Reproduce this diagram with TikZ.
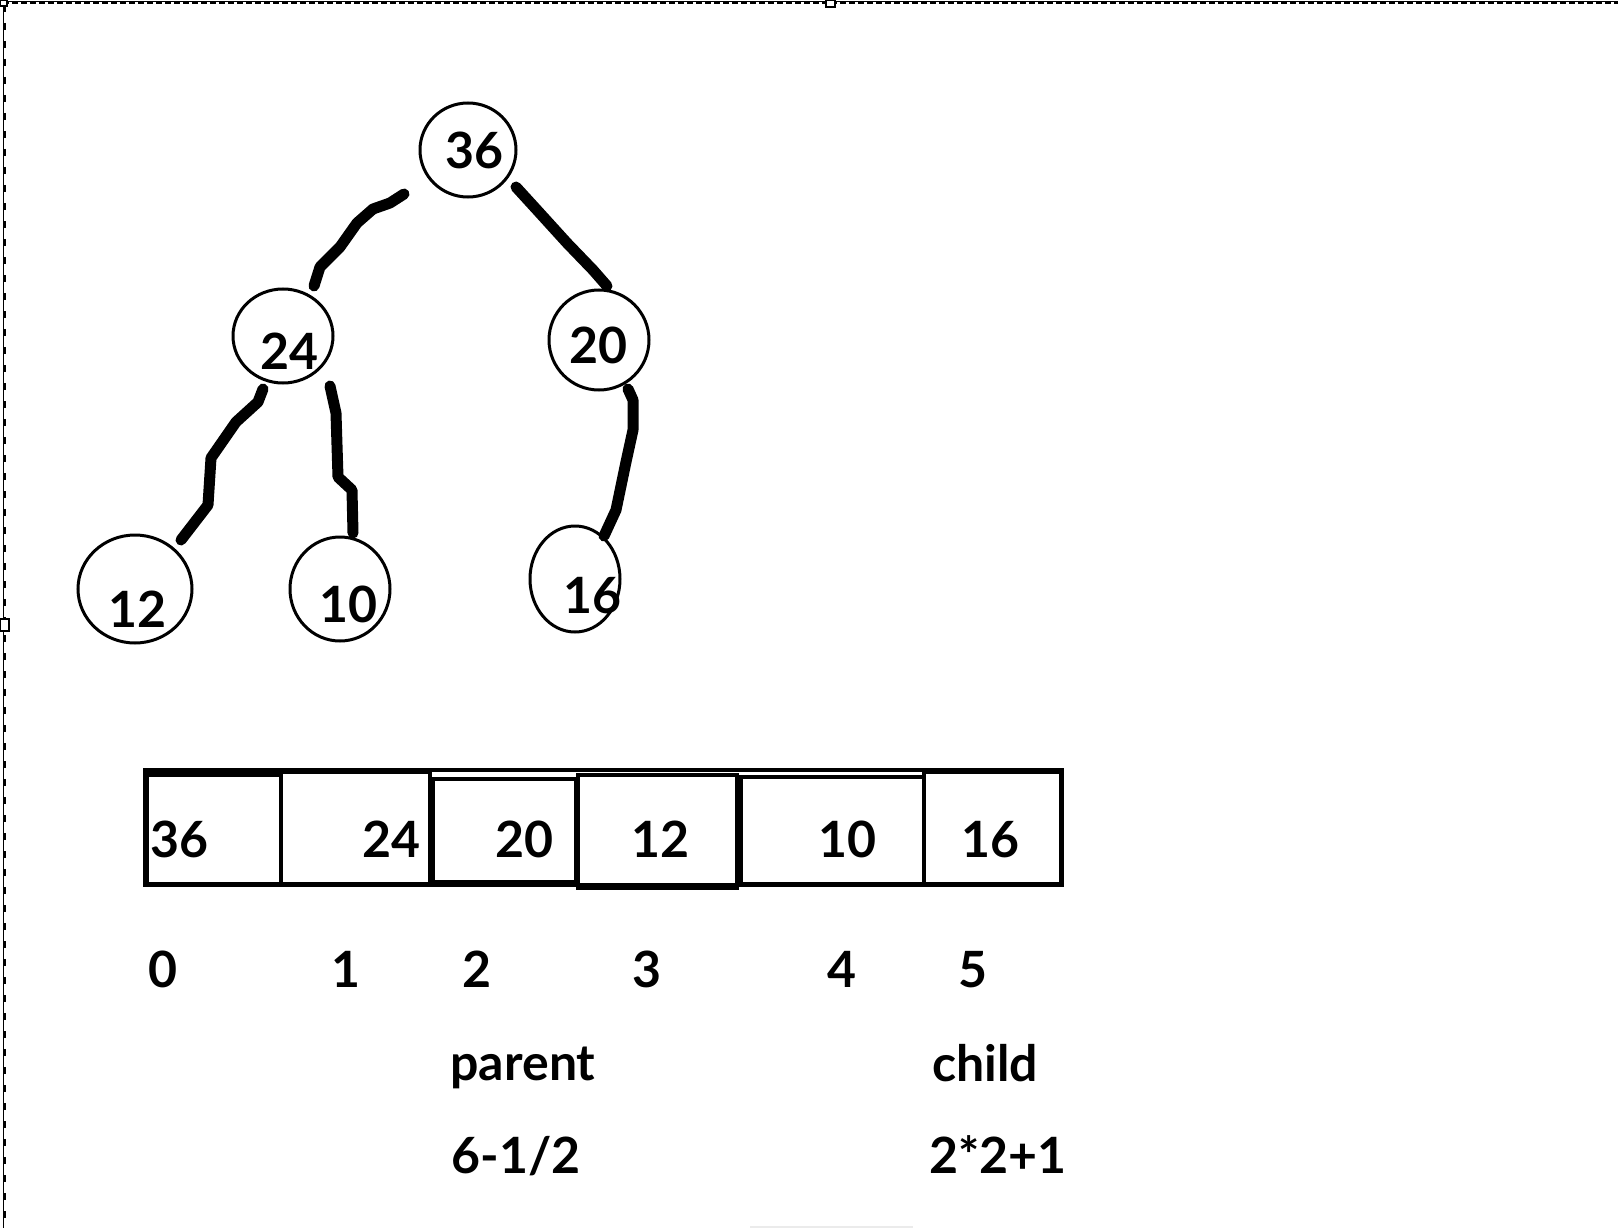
\documentclass[tikz,border=0pt]{standalone}
\usepackage{fontspec}
\setmainfont{Lato}
\usetikzlibrary{shapes.geometric}
\begin{document}
\begin{tikzpicture}[x=1pt,y=-1pt,
  tnode/.style={draw,ellipse,line width=3pt,inner sep=0pt},
  lbl/.style={anchor=base,inner sep=0pt,font=\fontsize{50}{50}\selectfont\bfseries},
  edge/.style={line width=11pt,line cap=round,line join=round},
  cell/.style={line width=3.5pt},
]
\useasboundingbox (0,0) rectangle (1618,1228);
% frame (selection border)
\draw[line width=1pt] (3,2) -- (1618,2);
\draw[line width=2.5pt,dash pattern=on 6pt off 3pt] (3,3) -- (1618,3);
\draw[line width=1pt] (3,2) -- (3,1228);
\draw[line width=2.5pt,dash pattern=on 7pt off 11pt] (4.5,5) -- (4.5,1228);
\draw[line width=1.5pt,fill=white] (826,0) rectangle (835,7);
\draw[line width=1.5pt,fill=white] (0,619) rectangle (9,631);
\draw[line width=1.5pt,fill=white] (0,0) rectangle (7,6);
\draw[black!8,line width=1.5pt] (750,1227) -- (913,1227);

% tree nodes
\node[tnode,minimum width=96pt,minimum height=94pt] (n36) at (468,150) {};
\node[tnode,minimum width=100pt,minimum height=100pt] (n20) at (599,340) {};
\node[tnode,minimum width=100pt,minimum height=94pt] (n24) at (283,336) {};
\node[tnode,minimum width=114pt,minimum height=108pt] (n12) at (135,589) {};
\node[tnode,minimum width=100pt,minimum height=104pt] (n10) at (340,589) {};
\node[tnode,minimum width=90pt,minimum height=106pt] (n16) at (575,579) {};

\node[lbl] (t36) at (474,168) {36};
\node[lbl] (t20) at (598,363) {20};
\node[lbl] (t24) at (289,369) {24};
\node[lbl] (t12) at (137,627) {12};
\node[lbl] (t10) at (348,622) {10};
\node[lbl] (t16) at (592,613) {16};

% hand-drawn connectors
\coordinate (a1) at (404,194);
\coordinate (b1) at (314,286);
\draw[edge] (a1) -- (390,203) -- (373,209) -- (357,223) -- (340,247) -- (320,267) -- (b1);
\coordinate (a2) at (516,187);
\coordinate (b2) at (607,286);
\draw[edge] (a2) -- (537,210) -- (567,243) -- (593,270) -- (b2);
\coordinate (a3) at (263,389);
\coordinate (b3) at (181,540);
\draw[edge] (a3) -- (258,402) -- (236,422) -- (211,458) -- (208,505) -- (b3);
\coordinate (a4) at (330,386);
\coordinate (b4) at (353,533);
\draw[edge] (a4) -- (336,413) -- (338,477) -- (352,490) -- (b4);
\coordinate (a5) at (628,389);
\coordinate (b5) at (604,536);
\draw[edge] (a5) -- (633,400) -- (633,430) -- (626,462) -- (616,510) -- (b5);

% array
\draw[cell] (145,770) rectangle (1062,885);
\draw[line width=8pt] (145,773) -- (281,773);
\draw[cell] (147,772) rectangle (281,884);
\draw[cell] (281,772) rectangle (430,884);
\draw[cell] (433,779) rectangle (576,882);
\draw[cell] (578,775) rectangle (737,888);
\draw[cell] (741,777) rectangle (924,884);
\draw[cell] (924,772) rectangle (1061,884);

\node[lbl] (v0) at (179,857) {36};
\node[lbl] (v1) at (391,857) {24};
\node[lbl] (v2) at (524,857) {20};
\node[lbl] (v3) at (660,857) {12};
\node[lbl] (v4) at (847,857) {10};
\node[lbl] (v5) at (990,857) {16};

\node[lbl] (i0) at (163,987) {0};
\node[lbl] (i1) at (346,987) {1};
\node[lbl] (i2) at (477,987) {2};
\node[lbl] (i3) at (647,987) {3};
\node[lbl] (i4) at (842,987) {4};
\node[lbl] (i5) at (973,987) {5};

\node[lbl] (parent) at (523,1080) {parent};
\node[lbl] (child) at (985,1081) {child};
\node[lbl] (f1) at (516,1173) {6-1/2};
\node[lbl] (f2) at (998,1173) {2*2+1};
\end{tikzpicture}
\end{document}
